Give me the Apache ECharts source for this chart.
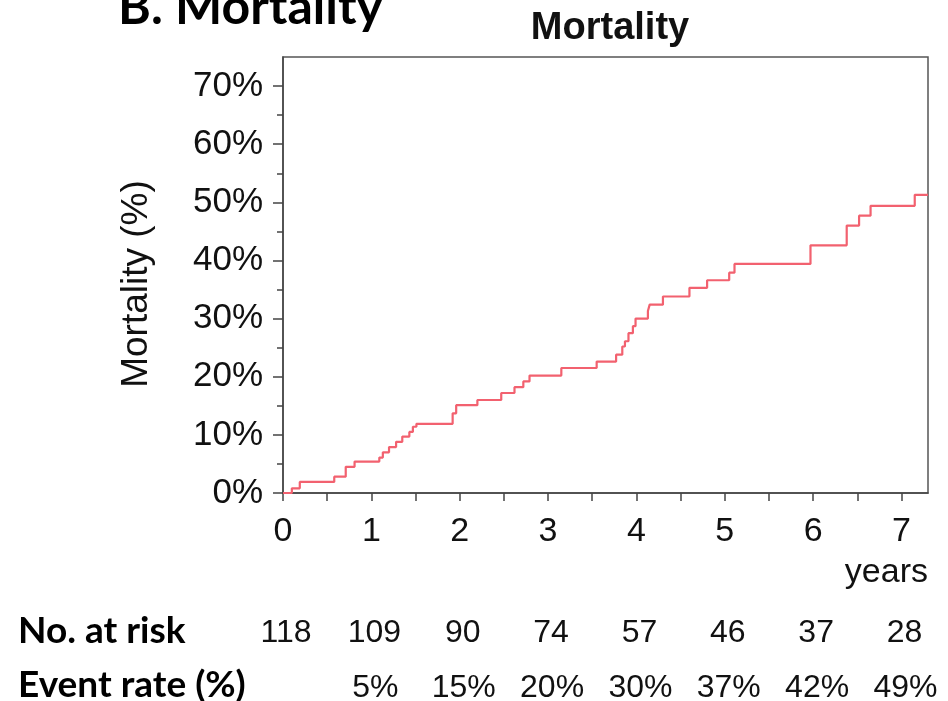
<!DOCTYPE html>
<html>
<head>
<meta charset="utf-8">
<title>Mortality</title>
<script src="https://cdn.jsdelivr.net/npm/echarts@6/dist/echarts.min.js"></script>
<style>
    html, body { margin: 0; padding: 0; background: #fff; }
    #main { width: 948px; height: 701px; }
</style>
</head>
<body>
<div id="main"></div>
<script>
// cumulative mortality (Kaplan-Meier style)
var years = [0, 0.10, 0.19, 0.58, 0.71, 0.81, 1.09, 1.13, 1.20, 1.28, 1.35, 1.43, 1.47, 1.51,
    1.92, 1.96, 2.20, 2.47, 2.62, 2.72, 2.79, 3.15, 3.55, 3.77, 3.84, 3.87, 3.91, 3.96, 3.99,
    4.13, 4.15, 4.30, 4.60, 4.80, 5.05, 5.11, 5.97, 6.38, 6.52, 6.65, 7.15, 7.30];
var mortality = [0, 0.8, 1.9, 2.8, 4.5, 5.4, 6.1, 7.0, 7.9, 8.8, 9.7, 10.5, 11.4, 11.9,
    13.7, 15.1, 16.0, 17.2, 18.2, 19.2, 20.2, 21.5, 22.6, 23.8, 25.2, 26.1, 27.5, 28.7, 30.0,
    31.3, 32.4, 33.8, 35.3, 36.6, 37.9, 39.4, 42.6, 46.0, 47.7, 49.4, 51.3, 51.3];

var xTickLabels = [0, 1, 2, 3, 4, 5, 6, 7];
var xTicks = [0, 0.5, 1, 1.5, 2, 2.5, 3, 3.5, 4, 4.5, 5, 5.5, 6, 6.5, 7];
var yTickLabels = [0, 10, 20, 30, 40, 50, 60, 70];
var yMinorTicks = [5, 15, 25, 35, 45, 55, 65];

var riskYears = [0, 1, 2, 3, 4, 5, 6, 7];
var atRisk = [118, 109, 90, 74, 57, 46, 37, 28];
var eventYears = [1, 2, 3, 4, 5, 6, 7];
var eventRate = ['5%', '15%', '20%', '30%', '37%', '42%', '49%'];

var lineData = [];
for (var i = 0; i < years.length; i++) {
    lineData.push([years[i], mortality[i]]);
}

var font = '"Liberation Sans", Arial, Helvetica, sans-serif';
var boldFont = 'Lato, "Liberation Sans", Arial, sans-serif';

var myChart = echarts.init(document.getElementById('main'));

var option = {
    animation: false,
    backgroundColor: '#fff',
    title: {
        text: 'Mortality',
        left: 605,
        top: 5,
        textAlign: 'center',
        textStyle: { fontFamily: font, fontSize: 38, fontWeight: 'bold', color: '#111' }
    },
    grid: {
        left: 283,
        right: 20,
        top: 57,
        bottom: 208,
        show: true,
        borderColor: '#555',
        borderWidth: 1.5,
        backgroundColor: 'transparent'
    },
    xAxis: {
        type: 'value',
        min: 0,
        max: 7.3,
        splitLine: { show: false },
        axisLine: { lineStyle: { color: '#444', width: 1.5 } },
        axisTick: { customValues: xTicks, length: 8, lineStyle: { color: '#444', width: 1.5 } },
        axisLabel: {
            customValues: xTickLabels,
            margin: 22,
            fontFamily: font,
            fontSize: 34,
            color: '#111'
        }
    },
    yAxis: [
        {
            type: 'value',
            min: 0,
            max: 75,
            splitLine: { show: false },
            axisLine: { lineStyle: { color: '#444', width: 1.5 } },
            axisTick: { customValues: yTickLabels, length: 10, lineStyle: { color: '#444', width: 1.5 } },
            axisLabel: {
                customValues: yTickLabels,
                formatter: '{value}%',
                margin: 20,
                fontFamily: font,
                fontSize: 35,
                color: '#111'
            }
        },
        {
            type: 'value',
            min: 0,
            max: 75,
            position: 'left',
            splitLine: { show: false },
            axisLine: { show: false },
            axisTick: { show: true, customValues: yMinorTicks, length: 6, lineStyle: { color: '#444', width: 1.5 } },
            axisLabel: { show: false }
        }
    ],
    series: [
        {
            name: 'Mortality',
            type: 'line',
            step: 'end',
            showSymbol: false,
            data: lineData,
            lineStyle: { color: '#f2616f', width: 2.2 },
            itemStyle: { color: '#f2616f' }
        }
    ]
};
myChart.setOption(option);

// risk table under the chart, placed on the x scale
var graphics = [
    {
        type: 'text', left: 118, top: -17,
        style: { text: 'B. Mortality', font: 'bold 50px ' + boldFont, fill: '#000' }
    },
    {
        type: 'text', x: 137, y: 284, rotation: Math.PI / 2,
        style: { text: 'Mortality (%)', font: '37px ' + font, fill: '#111', align: 'center', verticalAlign: 'middle' }
    },
    {
        type: 'text', right: 20, top: 556,
        style: { text: 'years', font: '34px ' + font, fill: '#111' }
    },
    {
        type: 'text', left: 18, top: 613,
        style: { text: 'No. at risk', font: 'bold 37px ' + boldFont, fill: '#000' }
    },
    {
        type: 'text', left: 18, top: 667,
        style: { text: 'Event rate (%)', font: 'bold 37px ' + boldFont, fill: '#000' }
    }
];
for (var j = 0; j < riskYears.length; j++) {
    var px = myChart.convertToPixel({ xAxisIndex: 0 }, riskYears[j]);
    graphics.push({
        type: 'text', x: px + 3, y: 633,
        style: { text: String(atRisk[j]), font: '32px ' + font, fill: '#111', align: 'center', verticalAlign: 'middle' }
    });
}
for (var k = 0; k < eventYears.length; k++) {
    var px2 = myChart.convertToPixel({ xAxisIndex: 0 }, eventYears[k]);
    graphics.push({
        type: 'text', x: px2 + 4, y: 688,
        style: { text: eventRate[k], font: '32px ' + font, fill: '#111', align: 'center', verticalAlign: 'middle' }
    });
}
myChart.setOption({ graphic: graphics });
</script>
</body>
</html>
